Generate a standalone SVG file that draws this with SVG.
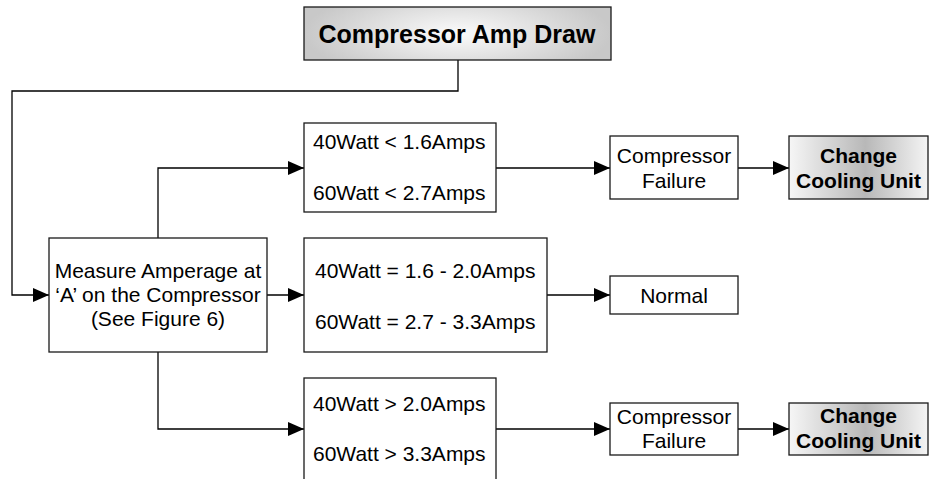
<svg xmlns="http://www.w3.org/2000/svg" width="930" height="479" viewBox="0 0 930 479">
<defs>
<radialGradient id="gTop" cx="0.5" cy="0.5" r="0.5" gradientTransform="translate(0.5 0.5) scale(1 1.8) translate(-0.5 -0.5)">
<stop offset="0" stop-color="#fbfbfb"/>
<stop offset="0.5" stop-color="#e2e2e2"/>
<stop offset="1" stop-color="#c8c8c8"/>
</radialGradient>
<linearGradient id="gChange" x1="0" y1="0" x2="1" y2="0">
<stop offset="0" stop-color="#f6f6f6"/>
<stop offset="0.55" stop-color="#b8b8b8"/>
<stop offset="1" stop-color="#f4f4f4"/>
</linearGradient>
<marker id="arr" markerUnits="userSpaceOnUse" markerWidth="16" markerHeight="14" refX="16" refY="7" orient="auto">
<path d="M0,0 L16,7 L0,14 z" fill="#000"/>
</marker>
</defs>
<style>
.box{fill:#fff;stroke:#1a1a1a;stroke-width:1.3}
.t{font-family:"Liberation Sans",Arial,sans-serif;font-size:21px;fill:#000}
.c{text-anchor:middle}
.b{font-weight:bold}
.ln{fill:none;stroke:#000;stroke-width:1.3}
.ar{marker-end:url(#arr)}
</style>
<g id="connectors">
<path class="ln ar" d="M458,60 V91 H12 V295 H49"/>
<path class="ln ar" d="M158,238 V168 H304"/>
<path class="ln ar" d="M267,295 H304"/>
<path class="ln ar" d="M158,352 V429 H304"/>
<path class="ln ar" d="M496,168 H610"/>
<path class="ln ar" d="M547,295 H610"/>
<path class="ln ar" d="M496,429 H610"/>
<path class="ln ar" d="M738,168 H789"/>
<path class="ln ar" d="M738,429 H789"/>
</g>
<g id="n-title">
<rect x="304" y="7" width="307" height="53" fill="url(#gTop)" stroke="#1a1a1a" stroke-width="1.3"/>
<text class="t c b" x="457" y="43" style="font-size:25px">Compressor Amp Draw</text>
</g>
<g id="n-measure">
<rect class="box" x="49" y="238" width="218" height="114"/>
<text class="t c" x="158" y="278">Measure Amperage at</text>
<text class="t c" x="158" y="302">‘A’ on the Compressor</text>
<text class="t c" x="158" y="326">(See Figure 6)</text>
</g>
<g id="n-low">
<rect class="box" x="304" y="123" width="192" height="89"/>
<text class="t" x="313" y="149">40Watt &lt; 1.6Amps</text>
<text class="t" x="313" y="200">60Watt &lt; 2.7Amps</text>
</g>
<g id="n-mid">
<rect class="box" x="304" y="238" width="243" height="114"/>
<text class="t" x="315" y="278">40Watt = 1.6 - 2.0Amps</text>
<text class="t" x="315" y="329">60Watt = 2.7 - 3.3Amps</text>
</g>
<g id="n-high">
<rect class="box" x="304" y="378" width="192" height="120"/>
<text class="t" x="313" y="411">40Watt &gt; 2.0Amps</text>
<text class="t" x="313" y="461">60Watt &gt; 3.3Amps</text>
</g>
<g id="n-fail1">
<rect class="box" x="610" y="136" width="128" height="63"/>
<text class="t c" x="674" y="163">Compressor</text>
<text class="t c" x="674" y="188">Failure</text>
</g>
<g id="n-normal">
<rect class="box" x="610" y="276" width="128" height="38"/>
<text class="t c" x="674" y="303">Normal</text>
</g>
<g id="n-fail2">
<rect class="box" x="610" y="403" width="128" height="52"/>
<text class="t c" x="674" y="424">Compressor</text>
<text class="t c" x="674" y="448">Failure</text>
</g>
<g id="n-change1">
<rect x="789" y="136" width="139" height="63" fill="url(#gChange)" stroke="#1a1a1a" stroke-width="1.3"/>
<text class="t c b" x="858.5" y="163">Change</text>
<text class="t c b" x="858.5" y="188">Cooling Unit</text>
</g>
<g id="n-change2">
<rect x="789" y="403" width="139" height="52" fill="url(#gChange)" stroke="#1a1a1a" stroke-width="1.3"/>
<text class="t c b" x="858.5" y="423">Change</text>
<text class="t c b" x="858.5" y="448">Cooling Unit</text>
</g>
</svg>
